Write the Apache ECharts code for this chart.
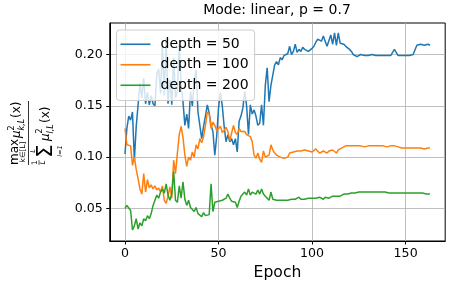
<!DOCTYPE html>
<html>
<head>
<meta charset="utf-8">
<script src="https://cdn.jsdelivr.net/npm/echarts@6/dist/echarts.min.js"></script>
<style>html,body{margin:0;padding:0;background:#fff}#c{width:451px;height:288px}</style>
</head>
<body>
<div id="c"></div>
<script>
// ---- data ----
const seriesNames = ['depth = 50', 'depth = 100', 'depth = 200'];
const depth50 = [
0.103,0.128,0.140,0.136,0.144,0.097,0.130,0.151,0.172,0.158,
0.177,0.152,0.163,0.151,0.160,0.152,0.150,0.181,0.186,0.162,
0.211,0.160,0.216,0.152,0.175,0.151,0.197,0.158,0.164,0.210,
0.170,0.154,0.131,0.142,0.128,0.164,0.150,0.174,0.185,0.144,
0.131,0.118,0.130,0.140,0.151,0.143,0.131,0.125,0.102,0.120,
0.148,0.163,0.150,0.130,0.115,0.122,0.115,0.118,0.112,0.118,
0.105,0.135,0.140,0.148,0.164,0.150,0.122,0.151,0.142,0.146,
0.140,0.131,0.133,0.151,0.131,0.170,0.187,0.154,0.170,0.180,
0.190,0.193,0.190,0.197,0.195,0.199,0.198,0.201,0.208,0.200,
0.203,0.210,0.202,0.205,0.203,0.207,0.205,0.204,0.203,0.204,
0.206,0.208,0.212,0.215,0.216,0.213,0.218,0.213,0.208,0.207,
0.219,0.210,0.221,0.209,0.221,0.211,0.211,0.210,0.208,0.207,
0.205,0.203,0.200,0.199,0.198,0.199,0.200,0.199,0.199,0.200,
0.199,0.199,0.200,0.199,0.199,0.199,0.199,0.199,0.199,0.199,
0.199,0.198,0.199,0.199,0.205,0.204,0.199,0.198,0.199,0.199,
0.199,0.199,0.199,0.200,0.200,0.201,0.209,0.209,0.210,0.209,
0.209,0.209,0.210,0.209];
const depth100 = [
0.128,0.112,0.113,0.111,0.092,0.100,0.088,0.079,0.069,0.064,
0.084,0.066,0.078,0.070,0.073,0.069,0.072,0.068,0.070,0.066,
0.072,0.058,0.055,0.062,0.071,0.060,0.097,0.084,0.104,0.122,
0.130,0.119,0.102,0.091,0.100,0.097,0.105,0.100,0.112,0.108,
0.118,0.114,0.120,0.131,0.144,0.142,0.128,0.134,0.131,0.126,
0.128,0.130,0.124,0.126,0.129,0.125,0.116,0.117,0.131,0.124,
0.122,0.128,0.125,0.126,0.125,0.122,0.121,0.120,0.115,0.102,
0.099,0.104,0.098,0.095,0.106,0.100,0.101,0.102,0.112,0.107,
0.104,0.102,0.101,0.100,0.099,0.099,0.099,0.100,0.104,0.104,
0.105,0.105,0.106,0.106,0.106,0.106,0.107,0.106,0.106,0.107,
0.105,0.106,0.108,0.107,0.104,0.104,0.106,0.105,0.104,0.106,
0.105,0.107,0.108,0.104,0.107,0.108,0.109,0.110,0.111,0.111,
0.111,0.112,0.111,0.111,0.111,0.111,0.111,0.111,0.110,0.111,
0.111,0.111,0.111,0.111,0.111,0.110,0.111,0.111,0.111,0.111,
0.110,0.111,0.111,0.111,0.111,0.110,0.110,0.109,0.109,0.109,
0.109,0.109,0.109,0.110,0.109,0.109,0.109,0.109,0.109,0.109,
0.108,0.109,0.109,0.109];
const depth200 = [
0.050,0.053,0.054,0.048,0.029,0.033,0.040,0.030,0.036,0.033,
0.040,0.038,0.043,0.040,0.045,0.053,0.058,0.063,0.060,0.066,
0.069,0.065,0.074,0.063,0.058,0.064,0.086,0.058,0.056,0.072,
0.060,0.076,0.059,0.053,0.058,0.051,0.050,0.047,0.051,0.045,
0.046,0.042,0.046,0.043,0.042,0.044,0.074,0.047,0.056,0.055,
0.057,0.056,0.058,0.057,0.060,0.064,0.060,0.057,0.056,0.056,
0.051,0.057,0.062,0.064,0.066,0.063,0.069,0.063,0.066,0.067,
0.064,0.068,0.064,0.069,0.064,0.062,0.060,0.058,0.066,0.059,
0.058,0.058,0.059,0.058,0.058,0.058,0.058,0.058,0.058,0.059,
0.059,0.059,0.060,0.061,0.059,0.059,0.059,0.060,0.060,0.060,
0.060,0.060,0.060,0.061,0.061,0.060,0.059,0.061,0.062,0.060,
0.061,0.062,0.063,0.062,0.063,0.062,0.063,0.064,0.064,0.064,
0.065,0.065,0.065,0.065,0.065,0.066,0.066,0.066,0.066,0.066,
0.066,0.066,0.066,0.066,0.066,0.066,0.066,0.066,0.065,0.066,
0.065,0.065,0.065,0.065,0.065,0.065,0.065,0.065,0.065,0.065,
0.065,0.065,0.065,0.065,0.065,0.065,0.065,0.065,0.065,0.065,
0.065,0.064,0.063,0.064];
const xTicks = [0, 50, 100, 150];
const yTicks = [0.05, 0.10, 0.15, 0.20];
const colors = ['#1f77b4', '#ff7f0e', '#2ca02c'];

// ---- chart ----
const FONT = 'DejaVu Sans';
const chart = echarts.init(document.getElementById('c'), null, {renderer: 'canvas'});
const allSeries = [depth50, depth100, depth200];
const pairs = arr => arr.map((v, i) => [i, v]);

function t(text, x, y, size, opts) {
  opts = opts || {};
  return {
    type: 'text', x: x, y: y, silent: true,
    style: {
      text: text,
      font: (opts.italic ? 'italic ' : '') + size + 'px "' + FONT + '"',
      fill: '#000', align: opts.align || 'left', verticalAlign: 'middle'
    }
  };
}
const yLabel = {
  type: 'group', x: 28.5, y: 133, rotation: Math.PI / 2, silent: true,
  children: [
    // numerator
    t('max', -32, -13.5, 12),
    t('k\u2208[L]', -19, -5, 7.5, {align: 'center'}),
    t('\u03bc', -5, -11.5, 12, {italic: true}),
    t('2', 2.5, -17, 8),
    t('k,L', 2.5, -6.5, 8, {italic: true}),
    t('(x)', 15, -11.5, 12),
    // fraction bar
    {type: 'line', silent: true, shape: {x1: -32, y1: 0, x2: 32, y2: 0}, style: {stroke: '#000', lineWidth: 0.8}},
    // denominator
    t('1', -29.5, 6.5, 7.5, {align: 'center'}),
    {type: 'line', silent: true, shape: {x1: -32, y1: 10.5, x2: -27, y2: 10.5}, style: {stroke: '#000', lineWidth: 0.6}},
    t('L', -29.5, 15, 7.5, {italic: true, align: 'center'}),
    t('\u03a3', -18, 18, 21, {align: 'center'}),
    t('L', -18, 5, 6.5, {italic: true, align: 'center'}),
    t('l=1', -18, 31.5, 6.5, {italic: true, align: 'center'}),
    t('\u03bc', -8, 17, 12, {italic: true}),
    t('2', -0.5, 11.5, 8),
    t('l,L', -0.5, 22, 8, {italic: true}),
    t('(x)', 10, 17, 12)
  ]
};

const option = {
  animation: false,
  backgroundColor: '#ffffff',
  color: colors,
  title: {
    text: 'Mode: linear, p = 0.7',
    left: 277, top: 3, textAlign: 'center', padding: 0,
    textStyle: {fontFamily: FONT, fontSize: 14, fontWeight: 'normal', color: '#000'}
  },
  grid: {
    left: 109.75, right: 5.8, top: 23, bottom: 47, containLabel: false,
    show: true, borderColor: '#000', borderWidth: 1, backgroundColor: 'transparent'
  },
  legend: {
    orient: 'vertical', left: 116.5, top: 30,
    padding: [6, 6, 7, 4], itemWidth: 30, itemHeight: 1.6, itemGap: 4,
    icon: 'rect',
    backgroundColor: 'rgba(255,255,255,0.8)', borderColor: '#cccccc', borderWidth: 1, borderRadius: 3,
    textStyle: {fontFamily: FONT, fontSize: 14, color: '#000', padding: [0, 0, 0, 5], lineHeight: 16.5},
    data: seriesNames
  },
  xAxis: {
    type: 'value', min: -8.15, max: 171.15,
    name: 'Epoch', nameLocation: 'middle', nameGap: 23,
    nameTextStyle: {fontFamily: FONT, fontSize: 15.6, color: '#000'},
    axisLine: {show: true, onZero: false, lineStyle: {color: '#000', width: 1}},
    axisTick: {show: true, customValues: xTicks, length: 3.5, lineStyle: {color: '#000', width: 1}},
    axisLabel: {customValues: xTicks, margin: 6, fontFamily: FONT, fontSize: 12.6, color: '#000'},
    splitLine: {show: true, lineStyle: {color: '#b0b0b0', width: 0.8}}
  },
  yAxis: {
    type: 'value', min: 0.0183, max: 0.2307,
    axisLine: {show: true, onZero: false, lineStyle: {color: '#000', width: 1}},
    axisTick: {show: true, customValues: yTicks, length: 3.5, lineStyle: {color: '#000', width: 1}},
    axisLabel: {customValues: yTicks, margin: 7, fontFamily: FONT, fontSize: 12.6, color: '#000',
      formatter: v => v.toFixed(2)},
    splitLine: {show: true, lineStyle: {color: '#b0b0b0', width: 0.8}}
  },
  graphic: [yLabel],
  series: allSeries.map((arr, k) => ({
    name: seriesNames[k], type: 'line', data: pairs(arr),
    symbol: 'none', showSymbol: false, z: 3,
    lineStyle: {width: 1.5, color: colors[k]}, itemStyle: {color: colors[k]}
  }))
};
chart.setOption(option);
</script>
</body>
</html>
